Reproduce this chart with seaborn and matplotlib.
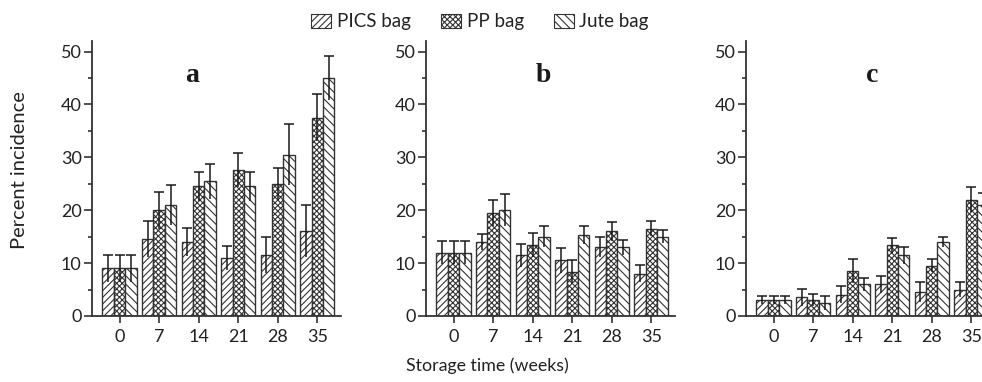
import numpy as np
import pandas as pd
import matplotlib
matplotlib.use("Agg")
import matplotlib.pyplot as plt
import seaborn as sns
from matplotlib.patches import Patch
from matplotlib.ticker import MultipleLocator

# ---- data ----
weeks = ["0", "7", "14", "21", "28", "35"]
bags = ["PICS bag", "PP bag", "Jute bag"]

a_pics = [9.0, 14.5, 14.0, 11.0, 11.5, 16.0]
a_pp = [9.0, 20.0, 24.5, 27.6, 25.0, 37.5]
a_jute = [9.0, 21.0, 25.5, 24.5, 30.5, 45.0]
a_pics_err = [2.5, 3.4, 2.6, 2.3, 3.4, 4.9]
a_pp_err = [2.5, 3.5, 2.8, 3.2, 3.0, 4.5]
a_jute_err = [2.5, 3.8, 3.3, 2.7, 5.8, 4.1]

b_pics = [12.0, 14.0, 11.5, 10.5, 13.0, 8.0]
b_pp = [12.0, 19.5, 13.4, 8.4, 16.0, 16.5]
b_jute = [12.0, 20.0, 15.0, 15.4, 13.0, 15.0]
b_pics_err = [2.1, 1.6, 2.2, 2.3, 1.9, 1.6]
b_pp_err = [2.1, 2.4, 2.3, 2.2, 1.8, 1.4]
b_jute_err = [2.1, 3.0, 2.0, 1.7, 1.4, 1.2]

c_pics = [3.0, 3.5, 4.0, 6.0, 4.5, 5.0]
c_pp = [3.0, 3.0, 8.5, 13.4, 9.5, 22.0]
c_jute = [3.0, 2.5, 6.0, 11.5, 14.0, 21.0]
c_pics_err = [0.7, 1.7, 1.6, 1.6, 1.9, 1.4]
c_pp_err = [0.7, 1.1, 2.2, 1.4, 1.2, 2.4]
c_jute_err = [0.7, 1.3, 1.2, 1.6, 0.9, 2.2]

panel_names = ["a", "b", "c"]
panels = [
    ([a_pics, a_pp, a_jute], [a_pics_err, a_pp_err, a_jute_err]),
    ([b_pics, b_pp, b_jute], [b_pics_err, b_pp_err, b_jute_err]),
    ([c_pics, c_pp, c_jute], [c_pics_err, c_pp_err, c_jute_err]),
]

# ---- style ----
sns.set_style("ticks")
plt.rcParams["font.family"] = ["Lato", "DejaVu Sans"]
plt.rcParams["hatch.linewidth"] = 0.8
plt.rcParams["hatch.color"] = "#222222"
TXT = "#222222"
hatches = ["/////", "xxxxxx", "\\\\\\\\"]

fig = plt.figure(figsize=(9.82, 3.82), dpi=100)
W, H = 982, 382
lefts = [92, 426, 746]
aw = 249
bottom_px, top_px = 316, 41

for pi, (vals, errs) in enumerate(panels):
    ax = fig.add_axes([lefts[pi] / W, 1 - bottom_px / H, aw / W, (bottom_px - top_px) / H])
    rows = []
    for bi, b in enumerate(bags):
        for wi, w in enumerate(weeks):
            rows.append({"week": w, "bag": b, "val": vals[bi][wi], "err": errs[bi][wi]})
    df = pd.DataFrame(rows)
    sns.barplot(data=df, x="week", y="val", hue="bag", order=weeks, hue_order=bags,
                errorbar=None, width=0.87, gap=0, dodge=True,
                palette=["white"] * 3, edgecolor="#333333", linewidth=1.0,
                legend=False, ax=ax)
    bar_conts = list(ax.containers)
    for bi, cont in enumerate(bar_conts):
        xs, ys = [], []
        for bar in cont:
            bar.set_hatch(hatches[bi])
            bar.set_edgecolor("#333333")
            xs.append(bar.get_x() + bar.get_width() / 2)
            ys.append(bar.get_height())
        eb = ax.errorbar(xs, ys, yerr=errs[bi], fmt="none", ecolor="#1a1a1a",
                         elinewidth=1.1, capsize=3.3, capthick=1.1, zorder=5)
        eb[1][0].set_visible(False)
    ax.set_xlim(-0.7, 5.6)
    ax.set_ylim(0, 52)
    ax.yaxis.set_major_locator(MultipleLocator(10))
    ax.yaxis.set_minor_locator(MultipleLocator(5))
    ax.tick_params(axis="y", which="major", length=5.5, width=1.2, colors="#333333",
                   labelcolor=TXT, labelsize=13, pad=2)
    ax.tick_params(axis="y", which="minor", length=3, width=1.2, colors="#333333")
    ax.tick_params(axis="x", which="major", length=5, width=1.2, colors="#333333",
                   labelcolor=TXT, labelsize=13, pad=4)
    ax.set_xlabel("")
    ax.set_ylabel("")
    for s in ["top", "right"]:
        ax.spines[s].set_visible(False)
    for s in ["left", "bottom"]:
        ax.spines[s].set_color("#333333")
        ax.spines[s].set_linewidth(1.3)
    lab_x = [1.83, 2.28, 2.49][pi]
    ax.text(lab_x, 44.2, panel_names[pi], ha="center", va="baseline",
            fontsize=20, fontweight="bold", family="Liberation Serif", color="#1a1a1a")

fig.text(20 / W, 1 - 170 / H, "Percent incidence", ha="center", va="center",
         rotation=90, fontsize=14.5, color=TXT)
fig.text(487 / W, 1 - 366 / H, "Storage time (weeks)", ha="center", va="center",
         fontsize=12.8, color=TXT)

handles = [Patch(facecolor="white", edgecolor="#333333", hatch=h, linewidth=0.8) for h in hatches]
fig.legend(handles, bags, loc="center", bbox_to_anchor=(480 / W, 1 - 22 / H), ncol=3,
           frameon=False, fontsize=13.5, handlelength=1.07, handleheight=0.8,
           handletextpad=0.3, columnspacing=1.6, labelcolor=TXT)

fig.savefig("out.png", dpi=100)
